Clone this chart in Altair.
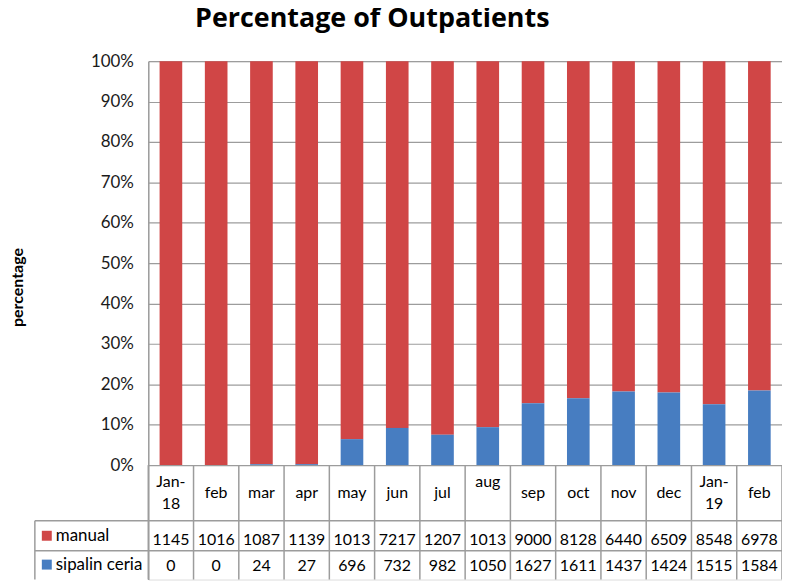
import altair as alt
import pandas as pd

# ---------------- data ----------------
months = ["Jan-\n18", "feb", "mar", "apr", "may", "jun", "jul", "aug\n ",
          "sep", "oct", "nov", "dec", "Jan-\n19", "feb"]
manual_counts = [11450, 10160, 10870, 11390, 10130, 7217, 12070, 10130,
                 9000, 8128, 6440, 6509, 8548, 6978]
manual_shown = ["1145", "1016", "1087", "1139", "1013", "7217", "1207", "1013",
                "9000", "8128", "6440", "6509", "8548", "6978"]
sipalin_counts = [0, 0, 24, 27, 696, 732, 982, 1050,
                  1627, 1611, 1437, 1424, 1515, 1584]
series = ["manual", "sipalin ceria"]
colors = ["#D04646", "#477DC1"]

# ---------------- layout ----------------
W, H = 637, 521
ZERO_PX = 406            # pixels from plot top to the 0% line
PLOT_TOP = 60            # page y of plot top
CAT_LINE_H = 23


def yv(page_y):
    """convert a page y pixel into the shared y-scale unit"""
    return (PLOT_TOP + ZERO_PX - page_y) / ZERO_PX


YMIN = yv(PLOT_TOP + H)
LINE = "#9c9c9c"
FONT = "Lato"

n = len(months)
bars_df = pd.DataFrame(
    [{"idx": i, "series": "manual", "count": manual_counts[i], "ord": 1} for i in range(n)]
    + [{"idx": i, "series": "sipalin ceria", "count": sipalin_counts[i], "ord": 0} for i in range(n)]
)
tab_df = pd.DataFrame({"idx": list(range(n)), "label": months,
                       "manual": manual_shown,
                       "sipalin": [str(v) for v in sipalin_counts]})
tab_df["ly"] = [yv(494 - (m.count("\n")) * CAT_LINE_H / 2) for m in months]
tab_df["ym"] = yv(541)
tab_df["ys"] = yv(567.5)
leg_df = pd.DataFrame({"series": series, "yl": [yv(537), yv(566)]})
bound_df = pd.DataFrame({"b": list(range(n + 1)), "y0": 0.0, "y1": YMIN})
hline_df = pd.DataFrame({"yb": [yv(522), yv(552)], "y1": YMIN})

xband = alt.Scale(type="band", paddingInner=0.5, paddingOuter=0.25)
yscale = alt.Scale(domain=[YMIN, 1], nice=False, zero=False)
cscale = alt.Scale(domain=series, range=colors)
yaxis = alt.Axis(values=[round(i * 0.1, 1) for i in range(11)], format="%",
                 grid=True, gridColor=LINE, gridWidth=1.2,
                 domainColor=LINE, domainWidth=1.5, ticks=False,
                 labelPadding=15, labelFontSize=17, labelColor="#1a1a1a",
                 labelFont=FONT,
                 title="percentage", titleFont=FONT, titleFontSize=16,
                 titleFontWeight="bold", titleColor="black",
                 titleAngle=270, titleX=-131, titleY=227,
                 titleAlign="center", titleBaseline="middle")


def Y(field):
    return alt.Y(field, scale=yscale, axis=yaxis)


bars = alt.Chart(bars_df).mark_bar().encode(
    x=alt.X("idx:O", scale=xband, axis=None),
    y=alt.Y("count:Q", stack="normalize", scale=yscale, axis=yaxis),
    color=alt.Color("series:N", scale=cscale, legend=None),
    order=alt.Order("ord:Q"),
)

vlines = alt.Chart(bound_df).mark_rule(color=LINE, strokeWidth=1.5).encode(
    x=alt.X("b:Q", scale=alt.Scale(domain=[0, n], nice=False, zero=False), axis=None),
    y=Y("y0:Q"), y2="y1:Q",
)
hlines = alt.Chart(hline_df).mark_rule(color=LINE, strokeWidth=1.5).encode(
    x=alt.value(-114), x2=alt.value(W), y=Y("yb:Q"),
)
lborder = alt.Chart(hline_df.iloc[:1]).mark_rule(color=LINE, strokeWidth=1.5).encode(
    x=alt.value(-114), y=Y("yb:Q"), y2="y1:Q",
)

cat_text = alt.Chart(tab_df).mark_text(
    lineBreak="\n", fontSize=16, lineHeight=CAT_LINE_H, baseline="middle", font=FONT,
    color="black"
).encode(x=alt.X("idx:O", scale=xband, axis=None), y=Y("ly:Q"), text="label:N")

man_text = alt.Chart(tab_df).mark_text(
    fontSize=16, baseline="middle", font=FONT, color="black"
).encode(x=alt.X("idx:O", scale=xband, axis=None), y=Y("ym:Q"), text="manual:N")

sip_text = alt.Chart(tab_df).mark_text(
    fontSize=16, baseline="middle", font=FONT, color="black"
).encode(x=alt.X("idx:O", scale=xband, axis=None), y=Y("ys:Q"), text="sipalin:N")

leg_sq = alt.Chart(leg_df).mark_square(size=100, opacity=1).encode(
    x=alt.value(-102), y=Y("yl:Q"),
    color=alt.Color("series:N", scale=cscale, legend=None),
)
leg_txt = alt.Chart(leg_df).mark_text(
    align="left", baseline="middle", fontSize=17, font=FONT, color="black"
).encode(x=alt.value(-93), y=Y("yl:Q"), text="series:N")

chart = alt.layer(
    bars, vlines, hlines, lborder, cat_text, man_text, sip_text, leg_sq, leg_txt
).resolve_scale(x="independent").properties(
    width=W, height=H,
    autosize=alt.AutoSizeParams(type="none"),
    padding={"left": 141, "top": 52, "right": 0, "bottom": 0},
    title=alt.TitleParams("Percentage of Outpatients", fontSize=27, fontWeight="bold",
                          font="Open Sans", anchor="start", dx=47, offset=19,
                          color="black", frame="group"),
).configure_view(stroke=None).configure(background="white")

chart.save("out.html", embed_options={"renderer": "svg", "actions": False})
